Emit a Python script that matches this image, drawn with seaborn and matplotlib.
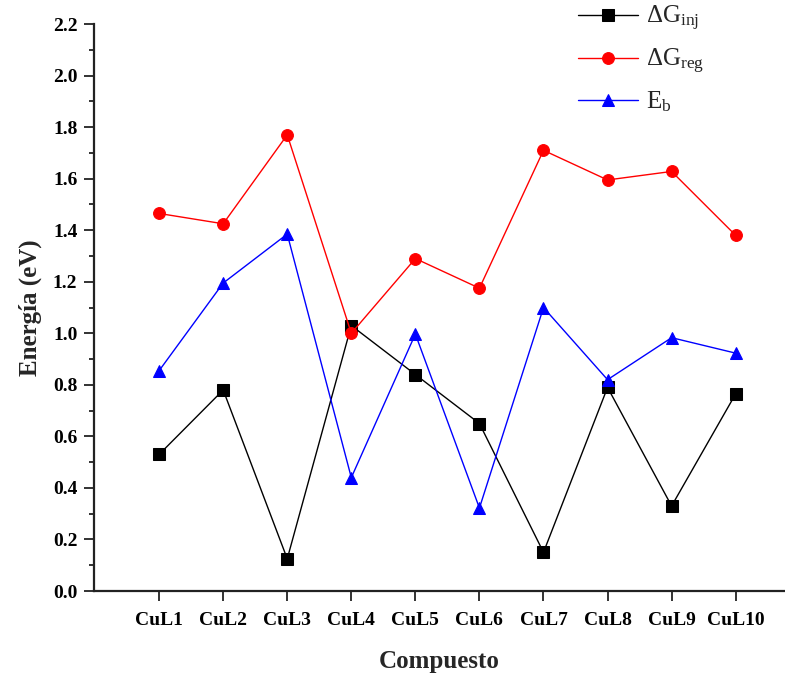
import matplotlib
matplotlib.use("Agg")
import matplotlib.pyplot as plt
import numpy as np
import pandas as pd
import seaborn as sns
from matplotlib.ticker import MultipleLocator, FormatStrFormatter

compounds = ["CuL1", "CuL2", "CuL3", "CuL4", "CuL5", "CuL6", "CuL7", "CuL8", "CuL9", "CuL10"]
dg_inj = [0.53, 0.78, 0.125, 1.03, 0.84, 0.65, 0.15, 0.79, 0.33, 0.765]
dg_reg = [1.465, 1.425, 1.77, 1.0, 1.29, 1.175, 1.71, 1.595, 1.628, 1.38]
e_b = [0.855, 1.195, 1.385, 0.44, 0.997, 0.322, 1.10, 0.82, 0.983, 0.923]

sns.set_style("ticks")
plt.rcParams["font.family"] = ["Liberation Serif", "DejaVu Serif"]
plt.rcParams["mathtext.fontset"] = "custom"
plt.rcParams["mathtext.rm"] = "Liberation Serif"
plt.rcParams["mathtext.it"] = "Liberation Serif"

x = np.arange(len(compounds))
df = pd.DataFrame({"x": x, "inj": dg_inj, "reg": dg_reg, "eb": e_b})

fig = plt.figure(figsize=(7.85, 6.77), dpi=100)
ax = fig.add_axes([0.1198, 0.127, 0.8802, 0.8375])

series = [
    ("inj", "black", "s", r"$\mathrm{\Delta G_{inj}}$"),
    ("reg", "red", "o", r"$\mathrm{\Delta G_{reg}}$"),
    ("eb", "blue", "^", r"$\mathrm{E_b}$"),
]
for col, color, marker, label in series:
    sns.lineplot(data=df, x="x", y=col, ax=ax, color=color, marker=marker,
                 markersize=8.5, markeredgecolor=color, linewidth=1, label=label)

ax.set_xlim(-1.016, 9.77)
ax.set_ylim(0, 2.2)
ax.set_xticks(x)
ax.set_xticklabels(compounds)
ax.yaxis.set_major_locator(MultipleLocator(0.2))
ax.yaxis.set_minor_locator(MultipleLocator(0.1))
ax.yaxis.set_major_formatter(FormatStrFormatter("%.1f"))
ax.tick_params(axis="both", which="major", direction="out", length=7, width=1.3,
               labelsize=14, colors="#222222", labelcolor="black")
ax.tick_params(axis="x", which="major", pad=8)
ax.tick_params(axis="y", which="major", pad=5)
ax.tick_params(axis="y", which="minor", direction="out", length=3.6, width=1.3,
               color="#222222")
for lab in ax.get_xticklabels() + ax.get_yticklabels():
    lab.set_fontweight("bold")
for s in ["top", "right"]:
    ax.spines[s].set_visible(False)
for s in ["left", "bottom"]:
    ax.spines[s].set_linewidth(1.6)
    ax.spines[s].set_color("#222222")

ax.set_xlabel("Compuesto", fontsize=18, fontweight="bold", labelpad=15)
ax.set_ylabel("Energía (eV)", fontsize=18, fontweight="bold", labelpad=8)

leg = ax.legend(loc="upper left", bbox_to_anchor=(578 / 785, 1 - 4 / 677),
                bbox_transform=fig.transFigure, frameon=False, fontsize=18,
                handlelength=2.4, labelspacing=0.55, handletextpad=0.3,
                borderpad=0, borderaxespad=0)

fig.savefig("out.png", dpi=100)
